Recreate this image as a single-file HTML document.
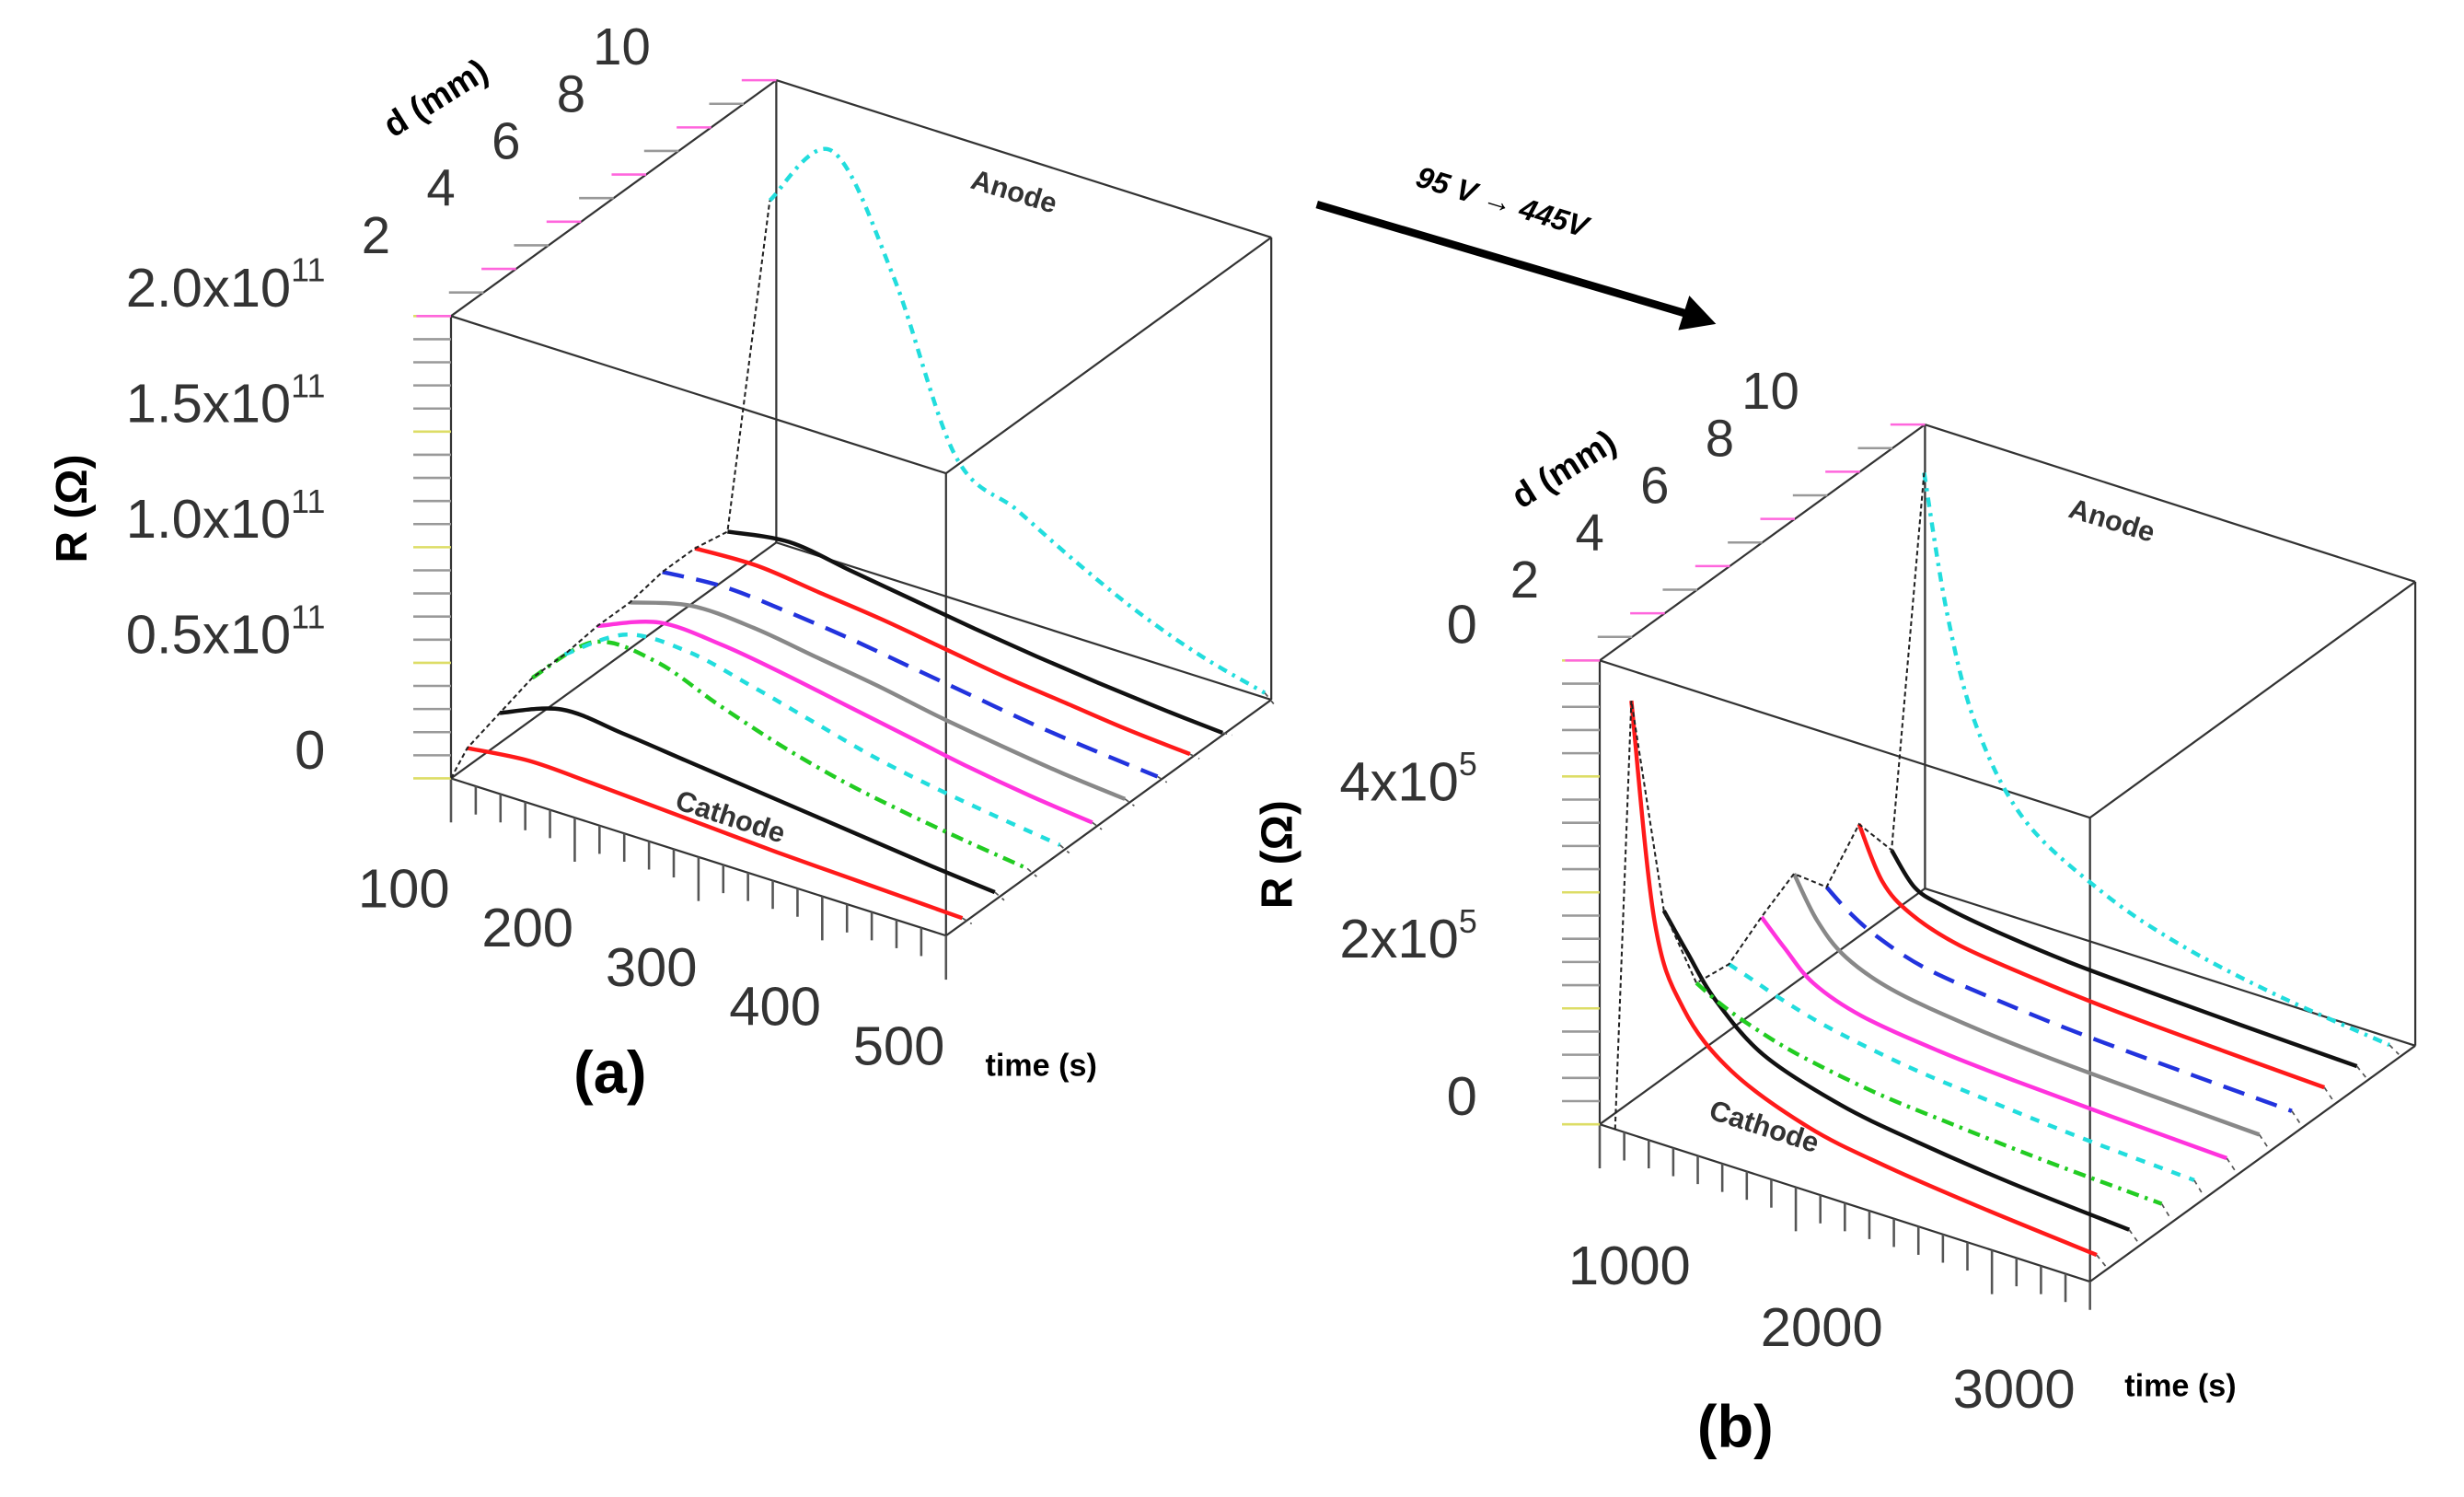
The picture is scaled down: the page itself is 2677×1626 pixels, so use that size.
<!DOCTYPE html>
<html><head><meta charset="utf-8"><style>
html,body{margin:0;padding:0;background:#fff;}
svg{display:block;}
text{font-family:"Liberation Sans",sans-serif;}
</style></head><body>
<svg id="chart" width="2677" height="1626" viewBox="0 0 1568 952" preserveAspectRatio="none" xmlns="http://www.w3.org/2000/svg">
<g id="pa"></g>
<g id="pb"></g>
<g>
<line x1="838" y1="130" x2="1075" y2="200" stroke="#000" stroke-width="5"/>
<polygon points="1092,206 1068,210 1075,188" fill="#000"/>
<text x="900" y="118" font-size="19" font-weight="bold" font-style="italic" transform="rotate(17 900 118)">95 V → 445V</text>
</g>
<text x="365" y="695" font-size="38" font-weight="bold">(a)</text>
<text x="1080" y="920" font-size="38" font-weight="bold">(b)</text>
<text x="627" y="684" font-size="20" font-weight="bold">time (s)</text>
<text x="1352" y="888" font-size="20" font-weight="bold">time (s)</text>
<text x="0" y="0" font-size="28" font-weight="bold" transform="translate(55 358) rotate(-90)">R (Ω)</text>
<text x="0" y="0" font-size="28" font-weight="bold" transform="translate(822 578) rotate(-90)">R (Ω)</text>
<text x="0" y="0" font-size="22" font-weight="bold" transform="translate(250 88) rotate(-32)">d (mm)</text>
<text x="0" y="0" font-size="22" font-weight="bold" transform="translate(968 324) rotate(-32)">d (mm)</text>
</svg>
<script>
// ---- Panel (a) data (R in 1e10 ohm) ----
const aTimes = [100,150,200,250,300,350,400,450,500];
const aDepths = [0.5,1.5,2.5,3.5,4.5,5.5,6.5,7.5,8.5,9.8];
const aRed1 = [0.8,1.1,1.0,0.85,0.7,0.55,0.45,0.35,0.25];
const aBlack1 = [1.3,2.3,2.1,1.8,1.5,1.2,0.9,0.6,0.35];
const aGreen = [1.8,4.2,4.2,3.2,2.3,1.6,1.1,0.7,0.35];
const aCyan1 = [1.8,3.5,3.6,3.0,2.3,1.6,1.1,0.7,0.35];
const aMagenta = [2.0,3.0,2.9,2.5,2.0,1.5,1.0,0.6,0.3];
const aGray = [2.0,2.7,2.6,2.2,1.8,1.3,0.9,0.55,0.3];
const aBlue = [2.3,2.5,2.3,2.0,1.6,1.2,0.8,0.5,0.25];
const aRed2 = [2.3,2.4,2.1,1.8,1.4,1.0,0.7,0.4,0.2];
const aBlack2 = [2.0,2.4,2.0,1.6,1.2,0.85,0.55,0.3,0.1];
const aCyan2 = [15,18,13.4,6.5,5,3.5,2.2,1.2,0.5];
// ---- Panel (b) data (R in 1e5 ohm) ----
const bTimes = [680,800,950,1200,1600,2000,2500,3100];
const bDepths = [0.5,1.5,2.5,3.5,4.5,5.5,6.5,7.5,8.5,9.5];
const bRed1 = [5.3,2.6,1.6,1.0,0.6,0.42,0.28,0.15];
const bBlack1 = [2.33,1.9,1.4,0.9,0.58,0.42,0.28,0.17];
const bGreen = [1.11,0.95,0.8,0.62,0.45,0.36,0.27,0.2];
const bCyan1 = [1.05,0.95,0.82,0.65,0.48,0.38,0.28,0.2];
const bMagenta = [1.35,1.05,0.72,0.5,0.37,0.3,0.24,0.18];
const bGray = [1.6,1.1,0.75,0.52,0.38,0.3,0.24,0.18];
const bBlue = [1.13,0.9,0.7,0.5,0.38,0.3,0.24,0.18];
const bRed2 = [1.63,1.0,0.7,0.5,0.38,0.3,0.24,0.18];
const bBlack2 = [1.0,0.62,0.5,0.4,0.3,0.25,0.2,0.15];
const bCyan2 = [5.5,3.8,2.5,1.5,0.9,0.55,0.3,0.12];
const seriesColors = ['#ff1a1a','#111','#22cc22','#22dddd','#ff33dd','#888','#2233dd','#ff1a1a','#111','#22dddd'];
const seriesDash = ['','','8 4 2 4','6 6','','','14 8','','','6 4 2 4'];
const aTickLabels = ['100','200','300','400','500'];
const aTickVals = [100,200,300,400,500];
const aRLabels = ['0','0.5x10','1.0x10','1.5x10','2.0x10'];
const aRVals = [0,5,10,15,20];
const bTickLabels = ['1000','2000','3000'];
const bTickVals = [1000,2000,3000];
const bRLabels = ['0','2x10','4x10','0'];
const bRVals = [0,2,4,6];
const dLabels = ['2','4','6','8','10'];
const dVals = [2,4,6,8,10];

const NS='http://www.w3.org/2000/svg';
function mk(parent,tag,attrs){const e=document.createElementNS(NS,tag);for(const k in attrs)e.setAttribute(k,attrs[k]);parent.appendChild(e);return e;}
function smooth(p){if(p.length<3)return 'M'+p.map(q=>q.join(',')).join(' L');
  let s='M'+p[0][0]+','+p[0][1];
  for(let i=0;i<p.length-1;i++){const p0=p[i-1]||p[i],p1=p[i],p2=p[i+1],p3=p[i+2]||p2;
    const c1=[p1[0]+(p2[0]-p0[0])/6,p1[1]+(p2[1]-p0[1])/6],c2=[p2[0]-(p3[0]-p1[0])/6,p2[1]-(p3[1]-p1[1])/6];
    s+=` C${c1[0]},${c1[1]} ${c2[0]},${c2[1]} ${p2[0]},${p2[1]}`;}
  return s;}

function panel(g,cfg,series){
  const P=(t,d,r)=>[cfg.ox+(t-cfg.t0)*cfg.tx+d*20.7, cfg.oy+(t-cfg.t0)*cfg.ty-d*15-r*cfg.rs];
  const T1=cfg.t1,RM=cfg.rmax;
  const edges=[[[cfg.t0,0,0],[T1,0,0]],[[cfg.t0,10,0],[T1,10,0]],[[cfg.t0,0,RM],[T1,0,RM]],[[cfg.t0,10,RM],[T1,10,RM]],
    [[cfg.t0,0,0],[cfg.t0,10,0]],[[T1,0,0],[T1,10,0]],[[cfg.t0,0,RM],[cfg.t0,10,RM]],[[T1,0,RM],[T1,10,RM]],
    [[cfg.t0,0,0],[cfg.t0,0,RM]],[[T1,0,0],[T1,0,RM]],[[cfg.t0,10,0],[cfg.t0,10,RM]],[[T1,10,0],[T1,10,RM]]];
  edges.forEach(e=>{const a=P(...e[0]),b=P(...e[1]);
    const l=mk(g,'line',{x1:a[0],y1:a[1],x2:b[0],y2:b[1],stroke:'#333','stroke-width':1.3});
    
    });
  for(let i=0;i<=cfg.nT;i++){const t=cfg.t0+(T1-cfg.t0)*i/cfg.nT;const a=P(t,0,0);
    const l=mk(g,'line',{x1:a[0],y1:a[1],x2:a[0],y2:a[1]+(i%cfg.major==0?28:18),stroke:'#555','stroke-width':1.5});
    
    }
  cfg.tVals.forEach((v,i)=>{const a=P(v,0,0);
    const tx=mk(g,'text',{x:a[0]-30,y:a[1]+cfg.lblDy,'font-size':35,fill:'#333','text-anchor':'middle'});tx.textContent=cfg.tLabels[i];
    
    });
  for(let i=0;i<=20;i++){const r=RM*i/20;const a=P(cfg.t0,0,r);
    const l=mk(g,'line',{x1:a[0]-24,y1:a[1],x2:a[0],y2:a[1],stroke:i%5==0?'#dddd66':'#999','stroke-width':1.5});
    
    }
  cfg.rVals.forEach((v,i)=>{const a=P(cfg.t0,0,v);
    const tx=mk(g,'text',{x:a[0]-cfg.rDx,y:a[1]-6,'font-size':35,fill:'#333','text-anchor':'end'});tx.textContent=cfg.rLabels[i];
    if(cfg.rLabels[i]!=='0'){const s=mk(tx,'tspan',{dy:-16,'font-size':21});s.textContent=cfg.rExp;}
    
    });
  for(let i=0;i<=10;i++){const a=P(cfg.t0,i,RM);
    const l=mk(g,'line',{x1:a[0]-22,y1:a[1],x2:a[0],y2:a[1],stroke:i%2==0?'#ff66dd':'#999','stroke-width':1.5});
    
    }
  dVals.forEach((v,i)=>{const a=P(cfg.t0,v,RM);
    const tx=mk(g,'text',{x:a[0]-80,y:a[1]-10,'font-size':33,fill:'#333','text-anchor':'end'});tx.textContent=dLabels[i];
    
    });
  const peaks=[];
  series.forEach((vals,si)=>{const d=cfg.depths[si];const pts=[];
    vals.forEach((v,j)=>{if(v!==null)pts.push(P(cfg.times[j],d,v));});
    peaks.push(pts[0]);
    const pl=mk(g,'path',{d:smooth(pts),fill:'none',stroke:seriesColors[si],'stroke-width':2.6,'stroke-dasharray':seriesDash[si],'stroke-linejoin':'round'});
    
    
    const b=P(cfg.times[cfg.times.length-1],d,0);const e=pts[pts.length-1];
    const dl=mk(g,'line',{x1:e[0],y1:e[1],x2:b[0]+6,y2:b[1],stroke:'#555','stroke-width':1,'stroke-dasharray':'3 3'});
    
    });
  const st=P(cfg.times[0],0,0);
  const pk=mk(g,'polyline',{points:[st].concat(peaks).map(p=>p.join(',')).join(' '),fill:'none',stroke:'#222','stroke-width':1.2,'stroke-dasharray':'3 2'});
  
  
  const an=P(cfg.t0+(T1-cfg.t0)*cfg.anF,10,RM*cfg.anR);
  const at=mk(g,'text',{x:an[0],y:an[1],'font-size':18,'font-weight':'bold',fill:'#333',transform:`rotate(17 ${an[0]} ${an[1]})`});at.textContent='Anode';
  
  
  const ca=P(cfg.t0+(T1-cfg.t0)*cfg.caF,0,0);
  const ct=mk(g,'text',{x:ca[0],y:ca[1]-26,'font-size':18,'font-weight':'bold',fill:'#333',transform:`rotate(18 ${ca[0]} ${ca[1]-26})`});ct.textContent='Cathode';
  
  
}
panel(document.getElementById('pa'),{ox:287,oy:495,t0:100,t1:500,tx:315/400,ty:100/400,rs:14.7,rmax:20,nT:20,major:5,
  tVals:aTickVals,tLabels:aTickLabels,rVals:aRVals,rLabels:aRLabels,rExp:'11',rDx:80,lblDy:82,times:aTimes,depths:aDepths,anF:0.39,anR:0.9,caF:0.45},
  [aRed1,aBlack1,aGreen,aCyan1,aMagenta,aGray,aBlue,aRed2,aBlack2,aCyan2]);
panel(document.getElementById('pb'),{ox:1018,oy:715,t0:600,t1:3150,tx:312/2550,ty:100/2550,rs:50,rmax:5.9,nT:20,major:8,
  tVals:bTickVals,tLabels:bTickLabels,rVals:bRVals,rLabels:bRLabels,rExp:'5',rDx:78,lblDy:86,times:bTimes,depths:bDepths,anF:0.29,anR:0.9,caF:0.22},
  [bRed1,bBlack1,bGreen,bCyan1,bMagenta,bGray,bBlue,bRed2,bBlack2,bCyan2]);
</script>
</body></html>
